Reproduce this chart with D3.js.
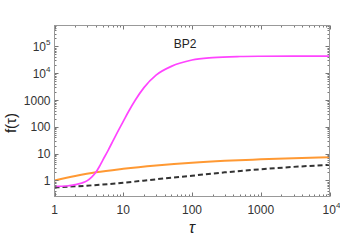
<!DOCTYPE html>
<html><head><meta charset="utf-8">
<script src="https://cdn.jsdelivr.net/npm/d3@7"></script>
<style>body{margin:0;background:#fff}</style>
</head><body>
<script>
// Data
const tauMag = [1, 1.5, 2, 2.5, 3, 3.5, 4, 4.5, 5, 6, 7, 8, 10, 12, 15, 20, 30, 50, 100, 200, 500, 1000, 3000, 10000];
const fMag   = [0.6, 0.62, 0.7, 0.8, 0.98, 1.35, 2.0, 3.3, 5.5, 13, 28, 55, 160, 380, 1000, 2900, 8500, 18000, 31000, 38000, 42000, 43000, 43500, 43600];
const tauOr  = [1, 2, 4, 10, 30, 100, 300, 1000, 3000, 10000];
const fOr    = [1.0, 1.45, 2.0, 2.7, 3.6, 4.6, 5.4, 6.1, 6.7, 7.3];
const tauBk  = [1, 2, 5, 10, 30, 100, 300, 1000, 3000, 10000];
const fBk    = [0.55, 0.6, 0.7, 0.82, 1.1, 1.5, 2.0, 2.6, 3.2, 3.8];
const xTicks = [1, 10, 100, 1000, 10000];
const xTickLabels = [["1"], ["10"], ["100"], ["1000"], ["10", "4"]];
const yTicks = [1, 10, 100, 1000, 1e4, 1e5];
const yTickLabels = [["1"], ["10"], ["100"], ["1000"], ["10", "4"], ["10", "5"]];
const title = "BP2";

const W = 340, H = 240;
const L = 54.5, R = 329.5, T = 25.5, B = 196.5;
const svg = d3.select("body").append("svg").attr("width", W).attr("height", H);
const x = d3.scaleLog().domain([1, 1e4]).range([L, R]);
const y = d3.scaleLog().domain([Math.pow(10, -0.6), Math.pow(10, 5.78)]).range([B, T]);

const frameCol = "#999", tickCol = "#777", labCol = "#333";
const font = "'Liberation Sans', Arial, sans-serif";

// minor ticks
const xMinor = [];
for (let d = 0; d < 4; d++) for (let k = 2; k <= 9; k++) xMinor.push(k * Math.pow(10, d));
const yMinor = [];
for (let d = -1; d < 6; d++) for (let k = 2; k <= 9; k++) { const v = k * Math.pow(10, d); if (v >= y.domain()[0] && v <= y.domain()[1]) yMinor.push(v); }

const g = svg.append("g");
svg.append("clipPath").attr("id", "c").append("rect").attr("x", L).attr("y", T).attr("width", R - L).attr("height", B - T);

const line = d3.line().x(d => x(d[0])).y(d => y(d[1])).curve(d3.curveMonotoneX);
const curves = g.append("g").attr("clip-path", "url(#c)");
curves.append("path").datum(d3.zip(tauBk, fBk)).attr("d", line).attr("fill", "none")
  .attr("stroke", "#333").attr("stroke-width", 2).attr("stroke-dasharray", "5,3");
curves.append("path").datum(d3.zip(tauOr, fOr)).attr("d", line).attr("fill", "none")
  .attr("stroke", "#ff9933").attr("stroke-width", 2);
curves.append("path").datum(d3.zip(tauMag, fMag)).attr("d", line).attr("fill", "none")
  .attr("stroke", "#ff44ff").attr("stroke-width", 1.7);

// ticks
const tk = g.append("g").attr("stroke", tickCol).attr("stroke-width", 1);
xTicks.forEach(v => { const px = Math.round(x(v)) + 0.5;
  tk.append("line").attr("x1", px).attr("x2", px).attr("y1", B).attr("y2", B - 4);
  tk.append("line").attr("x1", px).attr("x2", px).attr("y1", T).attr("y2", T + 4); });
xMinor.forEach(v => { const px = Math.round(x(v)) + 0.5;
  tk.append("line").attr("x1", px).attr("x2", px).attr("y1", B).attr("y2", B - 2);
  tk.append("line").attr("x1", px).attr("x2", px).attr("y1", T).attr("y2", T + 2); });
yTicks.forEach(v => { const py = Math.round(y(v)) + 0.5;
  tk.append("line").attr("x1", L).attr("x2", L + 4).attr("y1", py).attr("y2", py);
  tk.append("line").attr("x1", R).attr("x2", R - 4).attr("y1", py).attr("y2", py); });
yMinor.forEach(v => { const py = Math.round(y(v)) + 0.5;
  tk.append("line").attr("x1", L).attr("x2", L + 2).attr("y1", py).attr("y2", py);
  tk.append("line").attr("x1", R).attr("x2", R - 2).attr("y1", py).attr("y2", py); });

// frame
g.append("rect").attr("x", L).attr("y", T).attr("width", R - L).attr("height", B - T)
  .attr("fill", "none").attr("stroke", frameCol).attr("stroke-width", 1);

// tick labels
function lab(parent, parts, px, py, anchor) {
  const t = parent.append("text").attr("x", px).attr("y", py).attr("text-anchor", anchor)
    .attr("font-family", font).attr("font-size", 12).attr("fill", labCol);
  t.append("tspan").text(parts[0]);
  if (parts[1]) t.append("tspan").attr("font-size", 8).attr("dy", -6).text(parts[1]);
  return t;
}
xTicks.forEach((v, i) => lab(svg, xTickLabels[i], x(v) + (xTickLabels[i][1] ? 2 : 0), B + 17, "middle"));
yTicks.forEach((v, i) => lab(svg, yTickLabels[i], L - 4, y(v) + 4.5, "end"));

// axis titles
svg.append("text").attr("x", x(100)).attr("y", 233).attr("text-anchor", "middle")
  .attr("font-family", font).attr("font-size", 16).attr("font-style", "italic").attr("fill", "#222").text("τ");
svg.append("text").attr("transform", "translate(16,123) rotate(-90)").attr("text-anchor", "middle")
  .attr("font-family", font).attr("font-size", 15).attr("fill", "#222").text("f(τ)");
svg.append("text").attr("x", 185).attr("y", 48).attr("text-anchor", "middle")
  .attr("font-family", font).attr("font-size", 12).attr("fill", "#222").text(title);
</script>
</body></html>
